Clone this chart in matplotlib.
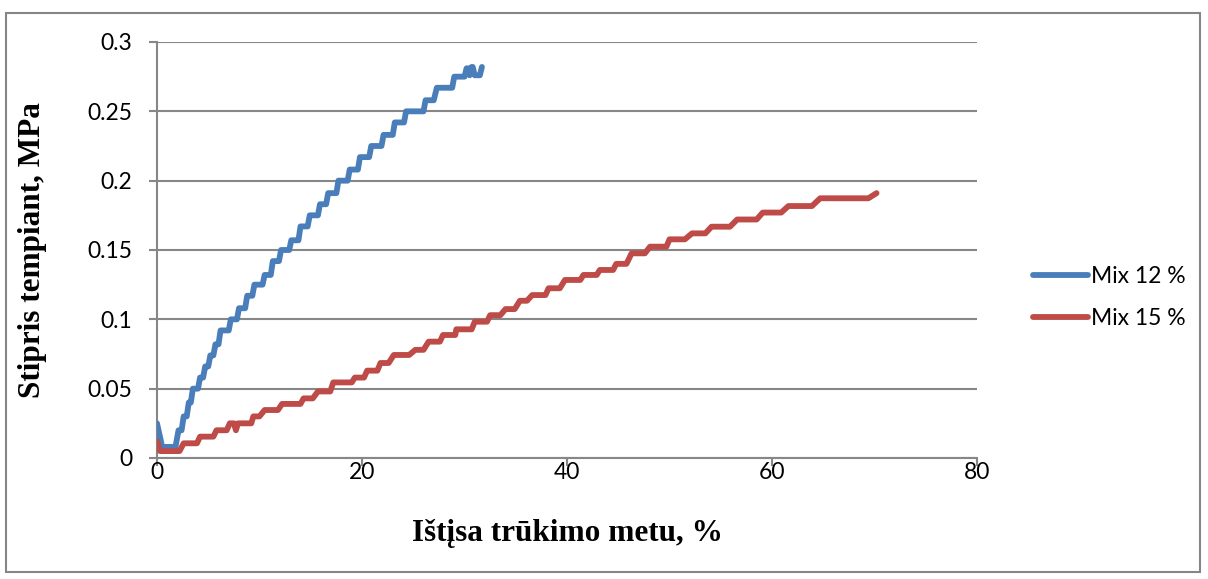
import matplotlib
matplotlib.use("Agg")
import matplotlib.pyplot as plt
from matplotlib.patches import Rectangle

# Elongation at break (%) and tensile strength (MPa) for the two mixes
mix12_x = [0.0, 0.3, 0.5, 1.8, 2.1, 2.4, 2.6, 2.9, 3.1, 3.3, 3.5, 4.0, 4.2, 4.5,
           4.7, 5.0, 5.2, 5.5, 5.7, 6.0, 6.2, 7.0, 7.2, 7.8, 8.0, 8.6, 8.8, 9.3,
           9.5, 10.3, 10.5, 11.1, 11.3, 11.9, 12.1, 12.9, 13.1, 13.8, 14.0, 14.7,
           14.9, 15.7, 15.9, 16.5, 16.7, 17.5, 17.7, 18.6, 18.8, 19.6, 19.8, 20.7,
           20.9, 21.9, 22.1, 23.0, 23.2, 24.1, 24.3, 26.0, 26.2, 27.0, 27.3, 28.8,
           29.0, 30.0, 30.2, 30.4, 30.5, 30.7, 30.8, 31.0, 31.5, 31.7]
mix12_y = [0.025, 0.015, 0.008, 0.008, 0.020, 0.020, 0.030, 0.030, 0.040, 0.040,
           0.050, 0.050, 0.058, 0.058, 0.066, 0.066, 0.074, 0.074, 0.082, 0.082,
           0.092, 0.092, 0.100, 0.100, 0.108, 0.108, 0.117, 0.117, 0.125, 0.125,
           0.132, 0.132, 0.142, 0.142, 0.150, 0.150, 0.157, 0.157, 0.167, 0.167,
           0.175, 0.175, 0.183, 0.183, 0.191, 0.191, 0.200, 0.200, 0.208, 0.208,
           0.217, 0.217, 0.225, 0.225, 0.233, 0.233, 0.242, 0.242, 0.250, 0.250,
           0.258, 0.258, 0.267, 0.267, 0.275, 0.275, 0.281, 0.281, 0.276, 0.282,
           0.282, 0.276, 0.276, 0.282]

mix15_x = [0.0, 0.3, 2.2, 2.6, 3.9, 4.2, 5.5, 5.8, 6.8, 7.1, 7.5, 7.7, 7.9, 9.2,
           9.4, 10.0, 10.5, 11.8, 12.2, 14.0, 14.3, 15.2, 15.7, 16.9, 17.2, 19.0,
           19.3, 20.2, 20.5, 21.5, 21.8, 22.6, 23.1, 24.6, 25.2, 26.0, 26.5, 27.6,
           27.9, 29.1, 29.2, 29.6, 29.8, 30.7, 31.0, 32.2, 32.5, 33.5, 34.0, 34.9,
           35.4, 36.1, 36.6, 37.9, 38.2, 39.3, 39.8, 41.3, 41.6, 42.9, 43.2, 44.5,
           44.8, 45.8, 46.3, 47.6, 48.1, 49.7, 50.0, 51.5, 52.2, 53.5, 54.1, 55.9,
           56.6, 58.5, 59.1, 60.9, 61.6, 63.9, 64.7, 69.4, 70.2]
mix15_y = [0.012, 0.005, 0.005, 0.0106, 0.0106, 0.0154, 0.0154, 0.020, 0.020,
           0.025, 0.025, 0.020, 0.025, 0.025, 0.030, 0.030, 0.0346, 0.0346, 0.039,
           0.039, 0.043, 0.043, 0.048, 0.048, 0.0545, 0.0545, 0.058, 0.058, 0.063,
           0.063, 0.0685, 0.0685, 0.0743, 0.0743, 0.078, 0.078, 0.0839, 0.0839,
           0.0887, 0.0887, 0.0928, 0.0928, 0.0928, 0.0928, 0.0983, 0.0983, 0.103,
           0.103, 0.1074, 0.1074, 0.1134, 0.1134, 0.1175, 0.1175, 0.1224, 0.1224,
           0.1284, 0.1284, 0.132, 0.132, 0.1356, 0.1356, 0.140, 0.140, 0.1476,
           0.1476, 0.1524, 0.1524, 0.1577, 0.1577, 0.162, 0.162, 0.1668, 0.1668,
           0.172, 0.172, 0.177, 0.177, 0.1817, 0.1817, 0.1873, 0.1873, 0.191]

series_names = ["Mix 12 %", "Mix 15 %"]
series_colors = ["#4A7EBB", "#BE4B48"]

x_ticks = [0, 20, 40, 60, 80]
y_ticks = [0, 0.05, 0.1, 0.15, 0.2, 0.25, 0.3]
y_tick_labels = ["0", "0.05", "0.1", "0.15", "0.2", "0.25", "0.3"]

x_label = "Ištįsa trūkimo metu, %"
y_label = "Stipris tempiant, MPa"

W, H = 1208, 579
fig = plt.figure(figsize=(W / 100, H / 100), dpi=100)
fig.patch.set_facecolor("white")

# chart-area frame
fig.patches.append(Rectangle((6 / W, 1 - 572 / H), 1194 / W, 559 / H,
                             transform=fig.transFigure, fill=False,
                             edgecolor="#868686", linewidth=1.5))

ax = fig.add_axes([157 / W, 1 - 458 / H, 820 / W, 416 / H])
grid_col = "#878787"

ax.plot(mix12_x, mix12_y, color=series_colors[0], linewidth=4.2,
        solid_joinstyle="round", solid_capstyle="round", label=series_names[0],
        zorder=3)
ax.plot(mix15_x, mix15_y, color=series_colors[1], linewidth=4.2,
        solid_joinstyle="round", solid_capstyle="round", label=series_names[1],
        zorder=3)

ax.set_xlim(0, 80)
ax.set_ylim(0, 0.3)
ax.set_xticks(x_ticks)
ax.set_yticks(y_ticks)
ax.set_yticklabels(y_tick_labels)

ax.yaxis.grid(True, color=grid_col, linewidth=1.5)
ax.set_axisbelow(True)
for side in ("top", "right"):
    ax.spines[side].set_visible(False)
for side in ("left", "bottom"):
    ax.spines[side].set_color(grid_col)
    ax.spines[side].set_linewidth(1.5)

ax.tick_params(axis="both", colors=grid_col, width=1.5, length=6,
               labelcolor="black")
ax.tick_params(axis="y", pad=12)
ax.tick_params(axis="x", pad=-3)
for lab in ax.get_xticklabels() + ax.get_yticklabels():
    lab.set_fontfamily("Lato")
    lab.set_fontsize(16.5)

ax.set_xlabel(x_label, fontfamily="Liberation Serif", fontweight="bold",
              fontsize=22.5, va="center")
ax.set_ylabel(y_label, fontfamily="Liberation Serif", fontweight="bold",
              fontsize=22.5, va="center")
ax.xaxis.set_label_coords(0.5, (458 - 534) / 416)
ax.yaxis.set_label_coords((33 - 157) / 820, 0.5)

leg = ax.legend(loc="center left", bbox_to_anchor=(1.043, 0.385), frameon=False,
                prop={"family": "Lato", "size": 16.5}, handlelength=2.4,
                handletextpad=0.15, labelspacing=0.93)
for line in leg.get_lines():
    line.set_linewidth(4.2)
    line.set_solid_capstyle("round")

fig.savefig("out.png", dpi=100)
